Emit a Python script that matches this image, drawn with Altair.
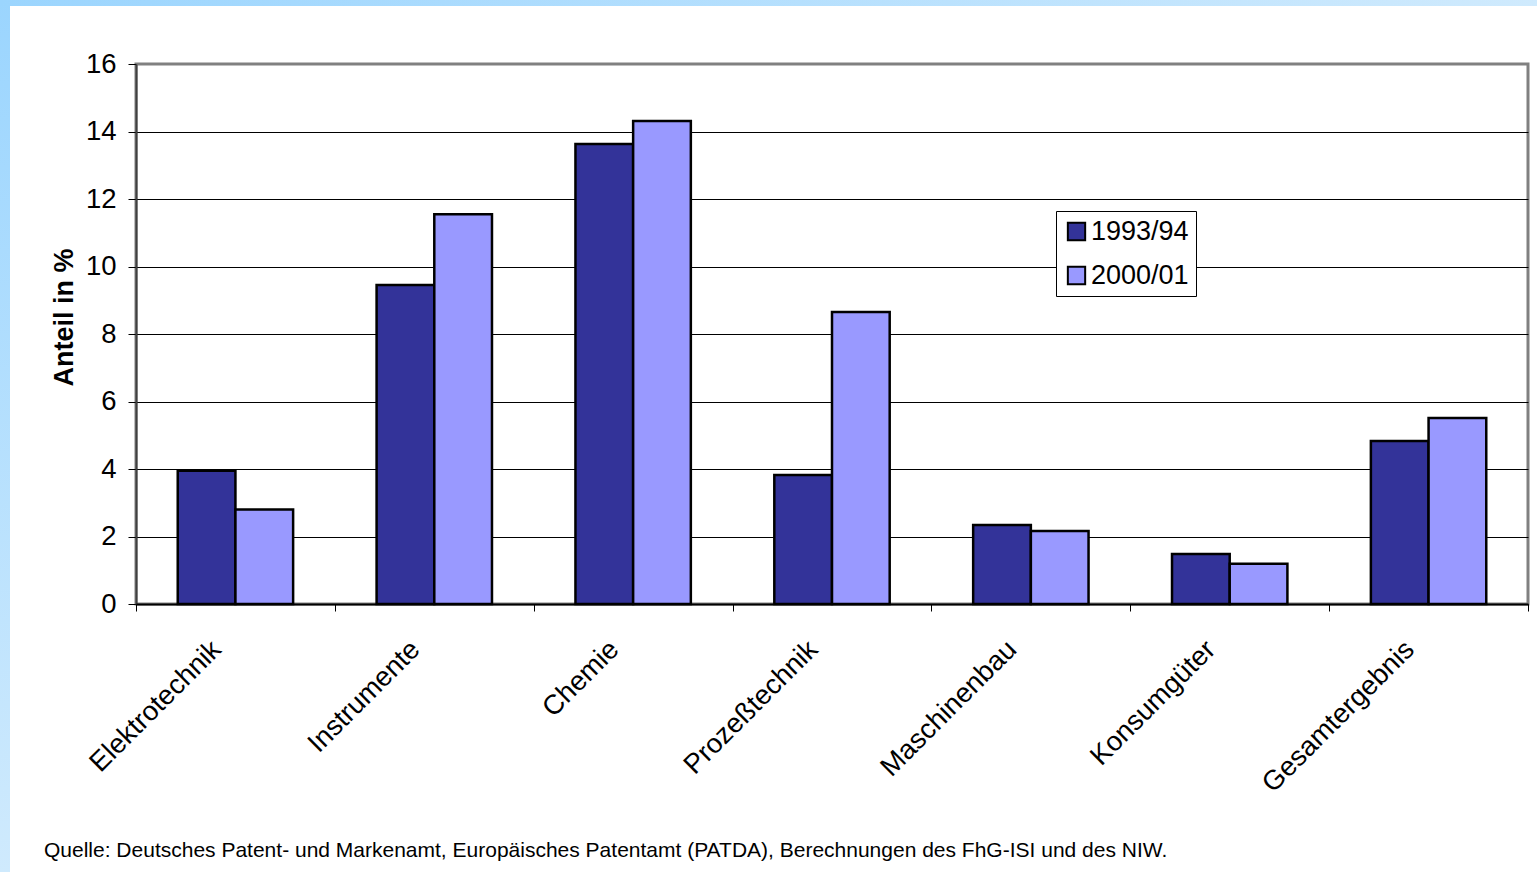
import altair as alt
import pandas as pd

categories = ["Elektrotechnik", "Instrumente", "Chemie", "Prozeßtechnik",
              "Maschinenbau", "Konsumgüter", "Gesamtergebnis"]
years = ["1993/94", "2000/01"]
values_1993 = [3.95, 9.45, 13.63, 3.82, 2.34, 1.48, 4.83]
values_2000 = [2.80, 11.55, 14.31, 8.65, 2.16, 1.19, 5.51]
y_ticks = [0, 2, 4, 6, 8, 10, 12, 14, 16]
colors = ["#333399", "#9999ff"]
source_text = ("Quelle: Deutsches Patent- und Markenamt, Europäisches Patentamt (PATDA), "
               "Berechnungen des FhG-ISI und des NIW.")

rows = []
for c, a, b in zip(categories, values_1993, values_2000):
    rows.append({"Bereich": c, "Jahr": years[0], "Anteil": a})
    rows.append({"Bereich": c, "Jahr": years[1], "Anteil": b})
df = pd.DataFrame(rows)

FONT = "Liberation Sans"
W, H = 1392, 540
PL, PT, PR, PB = 136, 64, 9, 268

bars = alt.Chart(df).mark_bar(stroke="black", strokeWidth=2.5).encode(
    x=alt.X("Bereich:N", sort=categories,
            scale=alt.Scale(paddingInner=0, paddingOuter=0),
            axis=alt.Axis(title=None, labelAngle=-45, labelAlign="right",
                          labelBaseline="middle", labelFontSize=27.5, labelFont=FONT,
                          labelColor="black", labelPadding=34, labelLimit=400,
                          labelOffset=-19,
                          tickBand="extent", tickSize=7, tickColor="black",
                          domainColor="black", domainWidth=2, grid=False, zindex=1)),
    xOffset=alt.XOffset("Jahr:N", sort=years,
                        scale=alt.Scale(paddingInner=0, paddingOuter=0.7234)),
    y=alt.Y("Anteil:Q", scale=alt.Scale(domain=[0, 16], nice=False),
            axis=alt.Axis(title="Anteil in %", values=y_ticks, titleFontSize=27,
                          titleFont=FONT, titleFontWeight="bold", titleColor="black",
                          titlePadding=7, titleY=253,
                          labelFontSize=27.5, labelFont=FONT,
                          labelColor="black", labelPadding=12, tickSize=8,
                          tickColor="black", domainColor="#404040", domainWidth=2,
                          grid=True,
                          gridColor=alt.condition(alt.datum.value == 16,
                                                  alt.value("#808080"), alt.value("black")),
                          gridWidth=1, zindex=0)),
    color=alt.Color("Jahr:N", sort=years,
                    scale=alt.Scale(domain=years, range=colors),
                    legend=alt.Legend(title=None, orient="none", legendX=920, legendY=147,
                                      fillColor="white", strokeColor="black",
                                      padding=7, symbolType="square", symbolSize=300,
                                      symbolStrokeColor="black", symbolStrokeWidth=2,
                                      symbolOpacity=1,
                                      labelFontSize=27, labelFont=FONT, labelColor="black",
                                      labelOffset=1, rowPadding=16, labelLimit=300)),
)

# light blue decorative border (left and top)
one = pd.DataFrame({"k": [0]})
grad_v = alt.LinearGradient(gradient="linear",
                            stops=[alt.GradientStop(color="#9bd5fe", offset=0),
                                   alt.GradientStop(color="#cfeafd", offset=1)],
                            x1=0, x2=0, y1=0, y2=1)
grad_h = alt.LinearGradient(gradient="linear",
                            stops=[alt.GradientStop(color="#9bd5fe", offset=0),
                                   alt.GradientStop(color="#cfeafd", offset=1)],
                            x1=0, x2=1, y1=0, y2=0)
left_strip = alt.Chart(one).mark_rect(fill=grad_v).encode(
    x=alt.value(-PL), x2=alt.value(-PL + 10), y=alt.value(-PT), y2=alt.value(H + PB))
top_strip = alt.Chart(one).mark_rect(fill=grad_h).encode(
    x=alt.value(-PL), x2=alt.value(W + PR), y=alt.value(-PT), y2=alt.value(-PT + 6))

source = alt.Chart(pd.DataFrame({"t": [source_text]})).mark_text(
    align="left", baseline="middle", font=FONT, fontSize=21, color="black"
).encode(text="t:N", x=alt.value(44 - PL), y=alt.value(851 - PT))

chart = alt.layer(bars, left_strip, top_strip, source).properties(
    width=W, height=H,
    padding={"left": PL, "top": PT, "right": PR, "bottom": PB},
    autosize=alt.AutoSizeParams(type="none"),
    background="white",
).configure_view(stroke="#808080", strokeWidth=3)

chart.save("out.html", embed_options={"renderer": "svg", "actions": False})
